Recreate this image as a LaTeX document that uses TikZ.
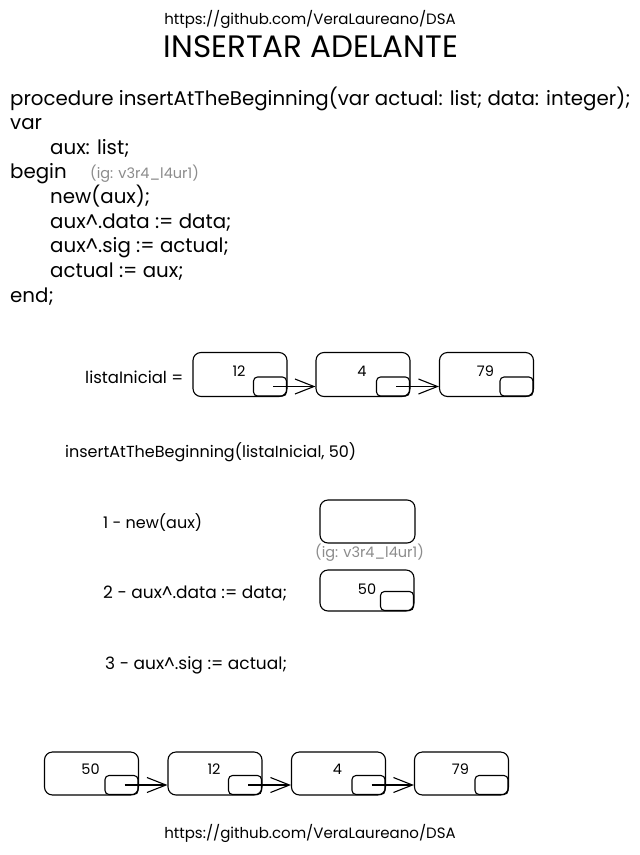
\documentclass[tikz,border=0pt]{standalone}
\usepackage{fontspec}
\setmainfont{Poppins}
\usetikzlibrary{arrows.meta,calc}
\begin{document}
\begin{tikzpicture}[x=1pt,y=-1pt,
  txt/.style={anchor=base west, inner sep=0pt, font=\fontsize{19.8}{22}\selectfont},
  small/.style={anchor=west, inner sep=0pt, font=\fontsize{16}{19}\selectfont},
  note/.style={anchor=base west, inner sep=0pt, text=black!45, font=\fontsize{14.5}{17}\selectfont},
  cell/.style={draw, line width=1.1pt, rounded corners=8pt, minimum width=94pt, minimum height=44pt, inner sep=0pt},
  ptr/.style={draw, line width=1.1pt, rounded corners=4pt, minimum width=33pt, minimum height=19pt, inner sep=0pt, anchor=south east},
  val/.style={font=\fontsize{14.5}{18}\selectfont, inner sep=0pt},
  link/.style={line width=1.1pt, -{Straight Barb[length=19pt,width=15pt,line width=1.1pt]}},
]
\path[use as bounding box, fill=white] (0,0) rectangle (640,855);

% header
\node[font=\fontsize{15}{18}\selectfont, inner sep=0pt] (urltop) at (310,19) {https://github.com/VeraLaureano/DSA};
\node[font=\fontsize{31}{36}\selectfont, inner sep=0pt] (title) at (311,47) {INSERTAR ADELANTE};

% procedure listing
\node[txt] (l1) at (10,105) {procedure insertAtTheBeginning(var actual: list; data: integer);};
\node[txt] (l2) at (10,129.6) {var};
\node[txt] (l3) at (50,154.2) {aux: list;};
\node[txt] (l4) at (10,178.9) {begin};
\node[note] (n1) at (90,178) {(ig: v3r4\_l4ur1)};
\node[txt] (l5) at (50,203.5) {new(aux);};
\node[txt] (l6) at (50,228) {aux\textasciicircum.data := data;};
\node[txt] (l7) at (50,252.7) {aux\textasciicircum.sig := actual;};
\node[txt] (l8) at (50,277.3) {actual := aux;};
\node[txt] (l9) at (10,302) {end;};

% initial list
\node[small, font=\fontsize{16.5}{19}\selectfont] (lbl) at (85,377) {listaInicial =};
\node[cell] (a1) at (240,374.5) {};
\node[cell] (a2) at (363,374.5) {};
\node[cell] (a3) at (486.5,374.5) {};
\foreach \c/\v in {a1/12,a2/4,a3/79}{
  \node[ptr] (\c p) at ($(\c.south east)+(-0.5,-0.5)$) {};
  \node[val] (\c v) at ($(\c.north)+(-1,19)$) {\v};
}
\draw[link] ($(a1p.center)+(3,0)$) -- (a1p.center -| a2.west);
\draw[link] ($(a2p.center)+(3,0)$) -- (a2p.center -| a3.west);

\node[small] (call) at (65,452) {insertAtTheBeginning(listaInicial, 50)};

% steps
\node[small] (s1) at (103,523) {1 - new(aux)};
\node[cell, minimum width=95pt, minimum height=43pt] (m1) at (367.5,521.5) {};
\node[note, anchor=west] (n2) at (315,553) {(ig: v3r4\_l4ur1)};
\node[small, font=\fontsize{17}{20}\selectfont] (s2) at (103,593) {2 - aux\textasciicircum.data := data;};
\node[cell, minimum height=41pt] (m2) at (367,590.5) {};
\node[ptr] (m2p) at ($(m2.south east)+(-0.5,-0.5)$) {};
\node[val] (m2v) at ($(m2.north)+(0,20)$) {50};
\node[small, font=\fontsize{17}{20}\selectfont] (s3) at (105,665) {3 - aux\textasciicircum.sig := actual;};

% resulting list
\node[cell, minimum height=43pt] (b1) at (91.5,773.5) {};
\node[cell, minimum height=43pt] (b2) at (215,773.5) {};
\node[cell, minimum height=43pt] (b3) at (338.5,773.5) {};
\node[cell, minimum height=43pt] (b4) at (461.5,773.5) {};
\foreach \c/\v in {b1/50,b2/12,b3/4,b4/79}{
  \node[ptr] (\c p) at ($(\c.south east)+(-0.5,-0.5)$) {};
  \node[val] (\c v) at ($(\c.north)+(-1,18)$) {\v};
}
\draw[link] ($(b1p.center)+(3,0)$) -- (b1p.center -| b2.west);
\draw[link] ($(b2p.center)+(3,0)$) -- (b2p.center -| b3.west);
\draw[link] ($(b3p.center)+(3,0)$) -- (b3p.center -| b4.west);

% footer
\node[font=\fontsize{15}{18}\selectfont, inner sep=0pt] (urlbot) at (310,833) {https://github.com/VeraLaureano/DSA};
\end{tikzpicture}
\end{document}
